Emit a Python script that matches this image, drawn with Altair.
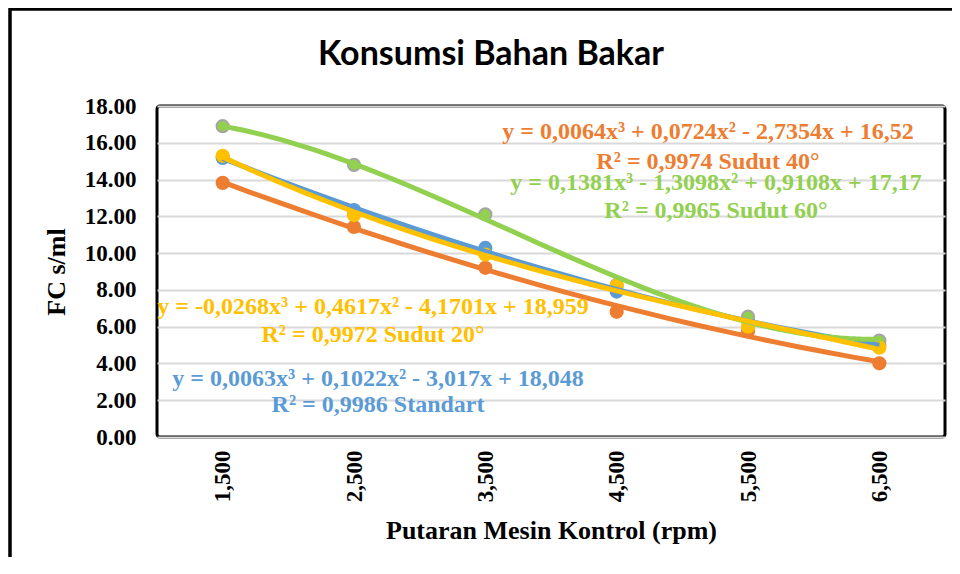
import altair as alt
import pandas as pd

# ---- data ----
rpm = [1500, 2500, 3500, 4500, 5500, 6500]
series_names = ["Standart", "Sudut 20°", "Sudut 40°", "Sudut 60°"]
fc_standart = [15.18, 12.34, 10.28, 7.91, 6.33, 5.00]
fc_sudut20 = [15.29, 12.07, 9.92, 8.23, 6.00, 4.86]
fc_sudut40 = [13.82, 11.42, 9.20, 6.81, 5.76, 4.01]
fc_sudut60 = [16.90, 14.80, 12.11, 8.27, 6.54, 5.24]

line_colors = ["#5B9BD5", "#FFC000", "#ED7D31", "#92D050"]
marker_strokes = ["#5B9BD5", "#FFC000", "#ED7D31", "#A5A5A5"]

chart_title = "Konsumsi Bahan Bakar"
eq_text = [
    "y = 0,0064x³ + 0,0724x² - 2,7354x + 16,52",
    "R² = 0,9974 Sudut 40°",
    "y = 0,1381x³ - 1,3098x² + 0,9108x + 17,17",
    "R² = 0,9965 Sudut 60°",
    "y = -0,0268x³ + 0,4617x² - 4,1701x + 18,959",
    "R² = 0,9972 Sudut 20°",
    "y = 0,0063x³ + 0,1022x² - 3,017x + 18,048",
    "R² = 0,9986 Standart",
]
eq_rpm = [5195, 5195, 5256, 5256, 2645, 2645, 2683, 2683]
eq_fc = [16.58, 14.95, 13.81, 12.29, 7.07, 5.55, 3.15, 1.74]
eq_color = ["#ED7D31", "#ED7D31", "#92D050", "#92D050",
            "#FFC000", "#FFC000", "#5B9BD5", "#5B9BD5"]
y_ticks = [0, 2, 4, 6, 8, 10, 12, 14, 16, 18]

# ---- tables ----
rows = []
for name, vals in zip(series_names, [fc_standart, fc_sudut20, fc_sudut40, fc_sudut60]):
    for r, v in zip(rpm, vals):
        rows.append({"series": name, "rpm": r, "fc": v})
df = pd.DataFrame(rows)
eq_df = pd.DataFrame({"rpm": eq_rpm, "fc": eq_fc, "text": eq_text, "color": eq_color})

x_scale = alt.Scale(domain=[1000, 7000], nice=False, zero=False)
y_scale = alt.Scale(domain=[0, 18], nice=False)
x_axis = alt.Axis(values=rpm, format=",.0f", labelAngle=-90, title="Putaran Mesin Kontrol (rpm)",
                  grid=False, ticks=False, domain=False, labelPadding=13, titlePadding=16)
y_axis = alt.Axis(values=y_ticks, format=".2f", title="FC s/ml", grid=True,
                  gridColor="#D9D9D9", gridWidth=2, ticks=False, domain=False,
                  labelPadding=21, titlePadding=15)

X = alt.X("rpm:Q", scale=x_scale, axis=x_axis)
Y = alt.Y("fc:Q", scale=y_scale, axis=y_axis)

one = pd.DataFrame({"k": [0]})
frame = alt.Chart(one).mark_rect(
    fillOpacity=0, stroke="black", strokeWidth=3.5
).encode(x=alt.value(-147), x2=alt.value(3000), y=alt.value(-97), y2=alt.value(3000))

title_mark = alt.Chart(one).mark_text(
    text=chart_title, font="Lato", fontSize=34, fontWeight="bold", color="black",
    align="center", baseline="alphabetic"
).encode(x=alt.value(334), y=alt.value(-41))

layers = [frame, title_mark]
order = [0, 2, 3, 1]  # Standart, 40, 60, 20
for i in order:
    layers.append(
        alt.Chart(df).transform_filter(alt.datum.series == series_names[i])
        .mark_circle(size=150, color=line_colors[i], stroke=marker_strokes[i],
                     strokeWidth=2, opacity=1)
        .encode(x=X, y=Y)
    )
for i in order:
    layers.append(
        alt.Chart(df).transform_filter(alt.datum.series == series_names[i])
        .transform_regression("rpm", "fc", method="poly", order=3)
        .mark_line(color=line_colors[i], strokeWidth=5, interpolate="monotone")
        .encode(x=X, y=Y)
    )

texts = alt.Chart(eq_df).mark_text(
    font="Liberation Serif", fontWeight="bold", fontSize=24, align="center", baseline="middle"
).encode(x=X, y=Y, text="text:N", color=alt.Color("color:N", scale=None))
layers.append(texts)

chart = alt.layer(*layers).properties(
    width=788, height=331,
    autosize=alt.AutoSizeParams(type="none"),
    padding={"left": 149, "top": 98, "right": 7, "bottom": 120},
).configure_view(
    stroke="black", strokeWidth=3, cornerRadius=3
).configure_axis(
    labelFont="Liberation Serif", labelFontWeight="bold", labelFontSize=23, labelColor="black",
    titleFont="Liberation Serif", titleFontWeight="bold", titleFontSize=26, titleColor="black",
)

chart.save("out.html", embed_options={"renderer": "svg", "actions": False})
